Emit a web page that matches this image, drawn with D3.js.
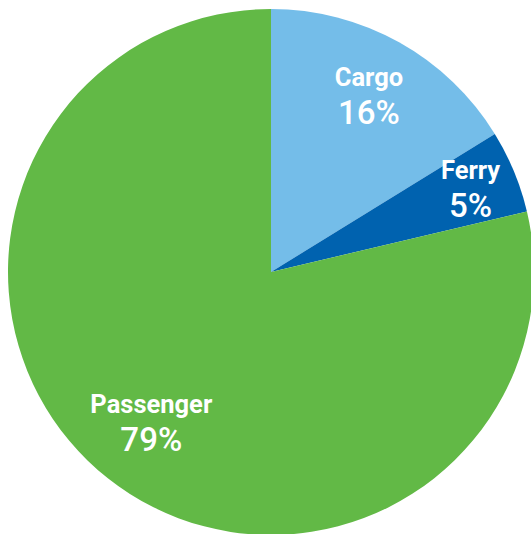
<!DOCTYPE html>
<html lang="en">
<head>
    <meta charset="UTF-8">
    <title>Cargo / Ferry / Passenger</title>
    <script src="https://d3js.org/d3.v7.min.js"></script>
    <style>
        html, body { margin: 0; padding: 0; background: #fff; }
        svg { display: block; }
        .lbl { font-family: Roboto, "Liberation Sans", sans-serif; font-weight: 700; fill: #fff; }
    </style>
</head>
<body>
    <div id="chart"></div>
    <script>
        // values
        const categories = ["Cargo", "Ferry", "Passenger"];
        const shares = [0.162, 0.051, 0.787];
        const colors = ["#74bde9", "#0062af", "#62b946"];

        const width = 531, height = 534;
        const cx = 271, cy = 272, radius = 263;

        const data = categories.map((c, i) => ({ name: c, value: shares[i], color: colors[i] }));

        const svg = d3.select("#chart").append("svg")
            .attr("width", width)
            .attr("height", height);

        const g = svg.append("g").attr("transform", `translate(${cx},${cy})`);

        const pie = d3.pie().sort(null).value(d => d.value);
        const arc = d3.arc().innerRadius(0).outerRadius(radius);

        const arcs = pie(data);

        g.selectAll("path")
            .data(arcs)
            .enter()
            .append("path")
            .attr("d", arc)
            .attr("fill", d => d.data.color);

        // label distance from centre, per slice
        const labelR = { Cargo: 201, Ferry: 216, Passenger: 193 };
        const fmt = d3.format(".0%");

        const labels = g.selectAll(".label")
            .data(arcs)
            .enter()
            .append("g")
            .attr("transform", d => {
                const r = labelR[d.data.name];
                const [x, y] = d3.arc().innerRadius(r).outerRadius(r).centroid(d);
                return `translate(${x},${y})`;
            });

        labels.append("text")
            .attr("class", "lbl")
            .attr("text-anchor", "middle")
            .attr("y", -10)
            .style("font-size", "25.5px")
            .text(d => d.data.name);

        labels.append("text")
            .attr("class", "lbl")
            .attr("text-anchor", "middle")
            .attr("y", 28)
            .style("font-size", "33px")
            .style("font-weight", 500)
            .text(d => fmt(d.data.value));
    </script>
</body>
</html>
